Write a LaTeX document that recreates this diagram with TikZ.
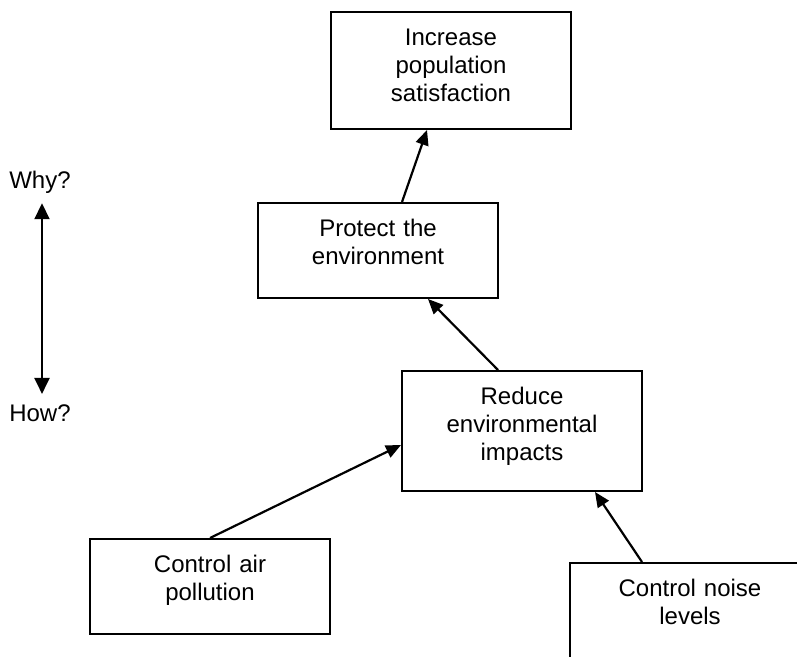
\documentclass[tikz,border=0pt]{standalone}
\usepackage{fontspec}
\setmainfont{Liberation Sans}
\usetikzlibrary{arrows.meta}

\begin{document}
\begin{tikzpicture}[x=0.5pt, y=-0.5pt,
    every node/.style={font=\fontsize{12pt}{14pt}\selectfont},
    goal/.style={draw, line width=1pt, minimum width=120pt, text width=112pt,
      inner xsep=4pt, inner ysep=8pt, align=center, text height=8.6pt},
    link/.style={line width=1.1pt, -{Triangle[length=7.5pt,width=6.5pt]}}]
  \useasboundingbox (0,0) rectangle (797,657);
  \clip (0,0) rectangle (797,657);
  % goals
  \node[goal, text depth=33.9pt] (sat) at (451,70.5) {Increase\\population\\satisfaction};
  \node[goal, text depth=22.9pt] (env) at (378,250.5) {Protect the\\environment};
  \node[goal, text depth=35.4pt] (red) at (522,431) {Reduce\\environmental\\impacts};
  \node[goal, text depth=22.9pt] (air) at (210,586.5) {Control air\\pollution};
  \node[goal, text depth=35.4pt] (noise) at (690,623) {Control noise\\levels};
  % why / how
  \node (why) at (40,182) {Why?};
  \node (how) at (40,413.5) {How?};
  % links
  \draw[link] ([xshift=12pt]env.north) -- ([xshift=-12pt]sat.south);
  \draw[link] ([xshift=-12pt]red.north) -- ([xshift=25pt]env.south);
  \draw[link] (air.north) -- ([yshift=-7pt]red.west);
  \draw[link] ([xshift=-24pt]noise.north) -- ([xshift=36.5pt]red.south);
  \draw[line width=1.1pt, {Triangle[length=8pt,width=7.5pt]}-{Triangle[length=8pt,width=7.5pt]},
    shorten <=1.5pt, shorten >=2pt] ([xshift=1pt]why.south) -- ([xshift=1pt]how.north);
\end{tikzpicture}
\end{document}
